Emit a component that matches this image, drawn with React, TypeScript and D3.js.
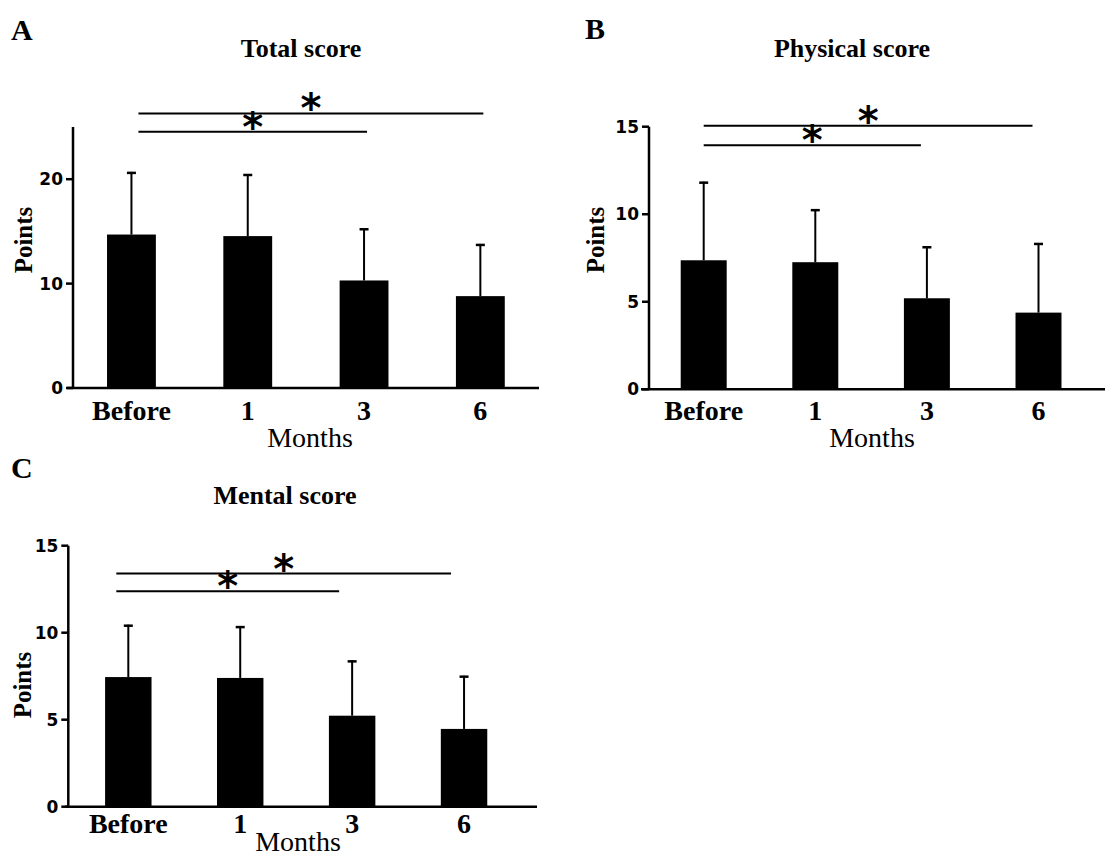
import React from 'react';
import * as d3 from 'd3';

// Months after treatment
const categories = ['Before', '1', '3', '6'];

// Bar heights (mean) and error bar lengths (SD)
const totalMeans = [14.7, 14.55, 10.3, 8.8];
const totalSD = [6.0, 5.95, 5.0, 5.0];
const physicalMeans = [7.37, 7.26, 5.2, 4.38];
const physicalSD = [4.49, 3.03, 2.97, 3.98];
const mentalMeans = [7.45, 7.4, 5.23, 4.47];
const mentalSD = [3.01, 2.98, 3.18, 3.06];

const totalTicks = [0, 10, 20];
const physicalTicks = [0, 5, 10, 15];
const mentalTicks = [0, 5, 10, 15];

// significance brackets: from -> to, drawn at value y
const totalSig = [
  { from: 'Before', to: '3', y: 24.55 },
  { from: 'Before', to: '6', y: 26.3 },
];
const physicalSig = [
  { from: 'Before', to: '3', y: 13.94 },
  { from: 'Before', to: '6', y: 15.05 },
];
const mentalSig = [
  { from: 'Before', to: '3', y: 12.38 },
  { from: 'Before', to: '6', y: 13.4 },
];

const SERIF = '"Liberation Serif", "Times New Roman", serif';
const SANS = '"DejaVu Sans", sans-serif';

interface Layout {
  letter: string;
  letterPos: [number, number];
  title: string;
  titlePos: [number, number];
  axisX: number;
  yTop: number;
  yBottom: number;
  yMax: number;
  band: [number, number];
  padInner: number;
  xAxis: [number, number];
  tickBaseline: number;
  monthsPos: [number, number];
  pointsPos: [number, number];
  sigShift: [number, number];
}

interface PanelProps {
  layout: Layout;
  means: number[];
  sd: number[];
  ticks: number[];
  sig: { from: string; to: string; y: number }[];
}

function Panel({ layout: L, means, sd, ticks, sig }: PanelProps) {
  const y = d3.scaleLinear().domain([0, L.yMax]).range([L.yBottom, L.yTop]);
  const x = d3
    .scaleBand<string>()
    .domain(categories)
    .range(L.band)
    .paddingInner(L.padInner)
    .paddingOuter(L.padInner / 2);
  const bw = x.bandwidth();
  const cx = (c: string) => (x(c) as number) + bw / 2;

  return (
    <g>
      <text x={L.letterPos[0]} y={L.letterPos[1]} fontFamily={SERIF} fontWeight="bold" fontSize={30}>
        {L.letter}
      </text>
      <text x={L.titlePos[0]} y={L.titlePos[1]} textAnchor="middle" fontFamily={SERIF} fontWeight="bold" fontSize={26}>
        {L.title}
      </text>

      {/* bars */}
      {means.map((m, i) => (
        <rect key={'b' + i} x={x(categories[i])} y={y(m)} width={bw} height={y(0) - y(m)} fill="#000" />
      ))}
      {/* error bars */}
      {means.map((m, i) => {
        const c = cx(categories[i]);
        const top = y(m + sd[i]);
        return (
          <g key={'e' + i} stroke="#000">
            <line x1={c} x2={c} y1={y(m)} y2={top} strokeWidth={2} />
            <line x1={c - 4.5} x2={c + 4.5} y1={top + 1} y2={top + 1} strokeWidth={2.5} />
          </g>
        );
      })}

      {/* axes */}
      <line x1={L.axisX} x2={L.axisX} y1={L.yTop} y2={L.yBottom} stroke="#000" strokeWidth={2.5} />
      <line x1={L.xAxis[0]} x2={L.xAxis[1]} y1={L.yBottom} y2={L.yBottom} stroke="#000" strokeWidth={2.5} />
      {ticks.map((t) => (
        <g key={'t' + t}>
          <line x1={L.axisX - 7} x2={L.axisX} y1={y(t)} y2={y(t)} stroke="#000" strokeWidth={2.5} />
          <text
            x={L.axisX - 10}
            y={y(t)}
            dy="0.36em"
            textAnchor="end"
            fontFamily={SANS}
            fontWeight="bold"
            fontSize={17}
          >
            {t}
          </text>
        </g>
      ))}
      {categories.map((c) => (
        <text key={'x' + c} x={cx(c)} y={L.tickBaseline} textAnchor="middle" fontFamily={SERIF} fontWeight="bold" fontSize={28}>
          {c}
        </text>
      ))}
      <text x={L.monthsPos[0]} y={L.monthsPos[1]} textAnchor="middle" fontFamily={SERIF} fontSize={28}>
        Months
      </text>
      <text
        transform={`translate(${L.pointsPos[0]},${L.pointsPos[1]}) rotate(-90)`}
        textAnchor="middle"
        fontFamily={SERIF}
        fontWeight="bold"
        fontSize={25}
      >
        Points
      </text>

      {/* significance brackets */}
      {sig.map((s, i) => {
        const x1 = cx(s.from) + L.sigShift[0];
        const x2 = cx(s.to) + L.sigShift[1];
        const yy = y(s.y);
        return (
          <g key={'s' + i}>
            <line x1={x1} x2={x2} y1={yy} y2={yy} stroke="#000" strokeWidth={2} />
            <text x={(x1 + x2) / 2} y={yy + 9} textAnchor="middle" fontFamily={SANS} fontWeight="bold" fontSize={40}>
              *
            </text>
          </g>
        );
      })}
    </g>
  );
}

const layoutA: Layout = {
  letter: 'A',
  letterPos: [11, 40],
  title: 'Total score',
  titlePos: [301, 57],
  axisX: 73,
  yTop: 127,
  yBottom: 388,
  yMax: 25,
  band: [73.3, 538.5],
  padInner: 0.58,
  xAxis: [67, 539],
  tickBaseline: 420,
  monthsPos: [310, 447],
  pointsPos: [32, 240],
  sigShift: [7, 3],
};

const layoutB: Layout = {
  letter: 'B',
  letterPos: [585, 39],
  title: 'Physical score',
  titlePos: [852, 57],
  axisX: 649,
  yTop: 126.7,
  yBottom: 389.3,
  yMax: 15,
  band: [647.9, 1094.3],
  padInner: 0.588,
  xAxis: [641, 1105],
  tickBaseline: 420,
  monthsPos: [872, 447],
  pointsPos: [604, 240],
  sigShift: [0, -6],
};

const layoutC: Layout = {
  letter: 'C',
  letterPos: [11, 478],
  title: 'Mental score',
  titlePos: [285, 504],
  axisX: 68.3,
  yTop: 545.7,
  yBottom: 806.7,
  yMax: 15,
  band: [72.35, 520],
  padInner: 0.585,
  xAxis: [65, 537],
  tickBaseline: 833,
  monthsPos: [298, 851],
  pointsPos: [31, 685],
  sigShift: [-12, -13],
};

export default function App() {
  return (
    <div style={{ position: 'absolute', left: 0, top: 0 }}>
      <svg width={1105} height={856} style={{ display: 'block', background: '#fff' }}>
        <Panel layout={layoutA} means={totalMeans} sd={totalSD} ticks={totalTicks} sig={totalSig} />
        <Panel layout={layoutB} means={physicalMeans} sd={physicalSD} ticks={physicalTicks} sig={physicalSig} />
        <Panel layout={layoutC} means={mentalMeans} sd={mentalSD} ticks={mentalTicks} sig={mentalSig} />
      </svg>
    </div>
  );
}
